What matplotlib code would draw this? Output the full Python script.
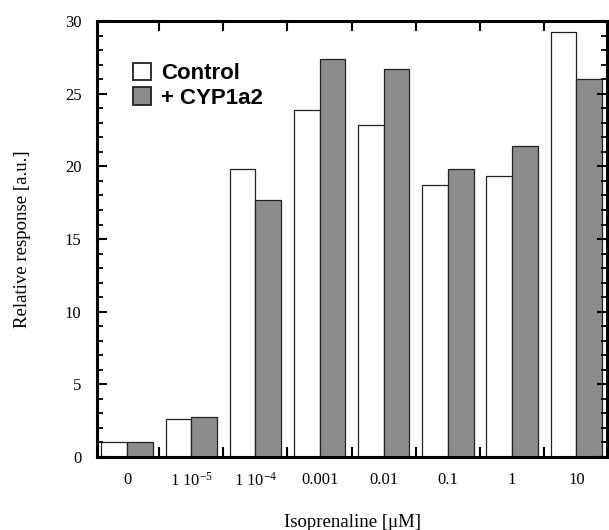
import matplotlib
matplotlib.use('Agg')
import matplotlib.pyplot as plt
import matplotlib.ticker as ticker
import numpy as np

concentrations = ['0', '1 10$^{-5}$', '1 10$^{-4}$', '0.001', '0.01', '0.1', '1', '10']
control = [1.0, 2.6, 19.85, 23.9, 22.85, 18.75, 19.35, 29.25]
cyp1a2 = [1.0, 2.75, 17.7, 27.4, 26.7, 19.85, 21.4, 26.0]

plt.rcParams['font.family'] = ['Liberation Serif', 'DejaVu Serif']
plt.rcParams['mathtext.fontset'] = 'custom'
plt.rcParams['mathtext.rm'] = 'Liberation Serif'
plt.rcParams['mathtext.it'] = 'Liberation Serif:italic'

fig = plt.figure(figsize=(6.09, 5.30), dpi=100)
ax = fig.add_axes([0.159, 0.138, 0.838, 0.822])

x = np.arange(len(concentrations))
w = 0.40
ax.bar(x - w / 2, control, w, color='white', edgecolor='#222222', linewidth=0.9, label='Control')
ax.bar(x + w / 2, cyp1a2, w, color='#8c8c8c', edgecolor='#222222', linewidth=0.9, label='+ CYP1a2')

ax.set_xlim(-0.47, len(x) - 0.52)
ax.set_ylim(0, 30)

# labels at group centres, tick marks only between groups
ax.set_xticks(x)
ax.set_xticklabels(concentrations)
ax.xaxis.set_minor_locator(ticker.FixedLocator(x[:-1] + 0.5))
ax.tick_params(axis='x', which='major', length=0, pad=11, labelsize=12)
ax.tick_params(axis='x', which='minor', direction='in', length=7, width=1.5, top=True, bottom=True)

ax.yaxis.set_major_locator(ticker.MultipleLocator(5))
ax.yaxis.set_minor_locator(ticker.MultipleLocator(1))
ax.tick_params(axis='y', which='major', direction='in', length=7, width=1.5, left=True, right=True, pad=11, labelsize=12)
ax.tick_params(axis='y', which='minor', direction='in', length=4, width=1.3, left=True, right=True)

for s in ax.spines.values():
    s.set_linewidth(2.2)

ax.set_xlabel('Isoprenaline [\u03bcM]', fontsize=13.5, labelpad=17)
ax.set_ylabel('Relative response [a.u.]', fontsize=13.5, labelpad=24)

leg = ax.legend(loc='upper left', bbox_to_anchor=(0.07, 0.905), frameon=False,
                prop={'family': 'Liberation Sans', 'weight': 'bold', 'size': 16},
                handlelength=0.85, handleheight=0.85, handletextpad=0.45,
                labelspacing=0.15, borderpad=0, borderaxespad=0)
for h in leg.legend_handles:
    h.set_linewidth(1.3)

fig.savefig('out.png', dpi=100)
